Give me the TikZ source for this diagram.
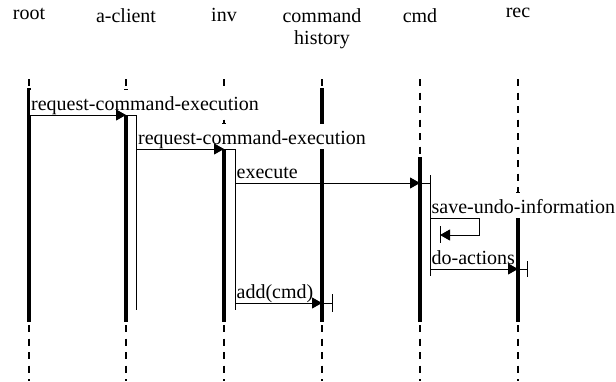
\documentclass[tikz,border=0pt]{standalone}
\usepackage{fontspec}
\setmainfont{Liberation Serif}
\usetikzlibrary{arrows.meta}
\begin{document}
\begin{tikzpicture}[x=1pt,y=-1pt,
  txt/.style={font=\fontsize{20}{22}\selectfont},
  head/.style={txt, align=center, inner sep=0pt, anchor=north},
  msglabel/.style={txt, fill=white, inner xsep=1pt, inner ysep=0pt, text height=21pt, text depth=4pt, anchor=south west},
  lifedash/.style={line width=1.7pt, dash pattern=on 7pt off 6.5pt},
  lifeact/.style={line width=3.2pt},
  thinline/.style={line width=1pt},
  msg/.style={line width=1pt, -{Triangle[length=10pt,width=11pt]}},
]
\useasboundingbox (0,0) rectangle (616,381);

% heads
\node[head] (h-root) at (29,8) {root};
\node[head] (h-client) at (126,8) {a-client};
\node[head] (h-inv) at (224,8) {inv};
\node[head] (h-hist) at (322,8) {command\\history};
\node[head] (h-cmd) at (420,8) {cmd};
\node[head] (h-rec) at (518,8) {rec};

% lifelines
\foreach \n/\x/\s in {root/29/88, client/126/89, inv/224/123, hist/322/88, cmd/420/157, rec/518/192} {
  \coordinate (\n-top) at (\x,79);
  \coordinate (\n-act) at (\x,\s);
  \coordinate (\n-end) at (\x,322);
  \coordinate (\n-bot) at (\x,325);
  \coordinate (\n-foot) at (\x,381);
  \draw[lifedash] (\n-top) -- (\n-act);
  \draw[lifeact] (\n-act) -- (\n-end);
  \draw[lifedash] (\n-bot) -- (\n-foot);
}

% message coordinates
\coordinate (m1s) at (29,115);  \coordinate (m1t) at (126,115); \coordinate (m1e) at (136,115);
\coordinate (m2s) at (136,149); \coordinate (m2t) at (224,149); \coordinate (m2e) at (235,149);
\coordinate (m3s) at (235,183); \coordinate (m3t) at (420,183); \coordinate (m3e) at (430,183);
\coordinate (m4s) at (430,218); \coordinate (m4a) at (479,218); \coordinate (m4b) at (479,235); \coordinate (m4t) at (440,235);
\coordinate (m5s) at (430,269); \coordinate (m5t) at (518,269); \coordinate (m5e) at (527,269);
\coordinate (m6s) at (235,303); \coordinate (m6t) at (322,303); \coordinate (m6e) at (332,303);

% labels
\node[msglabel] (l1) at (30,115) {request-command-execution};
\node[msglabel] (l2) at (137,149) {request-command-execution};
\node[msglabel] (l3) at (235.5,183) {execute};
\node[msglabel] (l4) at (430.5,218) {save-undo-information};
\node[msglabel] (l5) at (430.5,269) {do-actions};
\node[msglabel] (l6) at (235.5,303) {add(cmd)};

% activations
\coordinate (a1b) at (136,310);
\coordinate (a2b) at (235,310);
\coordinate (a3t) at (430,175); \coordinate (a3b) at (430,276);
\coordinate (k4t) at (440,226); \coordinate (k4b) at (440,243);
\coordinate (k5t) at (527,261); \coordinate (k5b) at (527,277);
\coordinate (k6t) at (332,294); \coordinate (k6b) at (332,312);
\draw[thinline] (m1t) -- (m1e) -- (a1b);
\draw[thinline] (m2t) -- (m2e) -- (a2b);
\draw[thinline] (a3t) -- (a3b);
\draw[thinline] (m3t) -- (m3e);
\draw[thinline] (k4t) -- (k4b);
\draw[thinline] (m5t) -- (m5e);
\draw[thinline] (k5t) -- (k5b);
\draw[thinline] (m6t) -- (m6e);
\draw[thinline] (k6t) -- (k6b);

% messages
\draw[msg] (m1s) -- (m1t);
\draw[msg] (m2s) -- (m2t);
\draw[msg] (m3s) -- (m3t);
\draw[msg] (m4s) -- (m4a) -- (m4b) -- (m4t);
\draw[msg] (m5s) -- (m5t);
\draw[msg] (m6s) -- (m6t);
\end{tikzpicture}
\end{document}
